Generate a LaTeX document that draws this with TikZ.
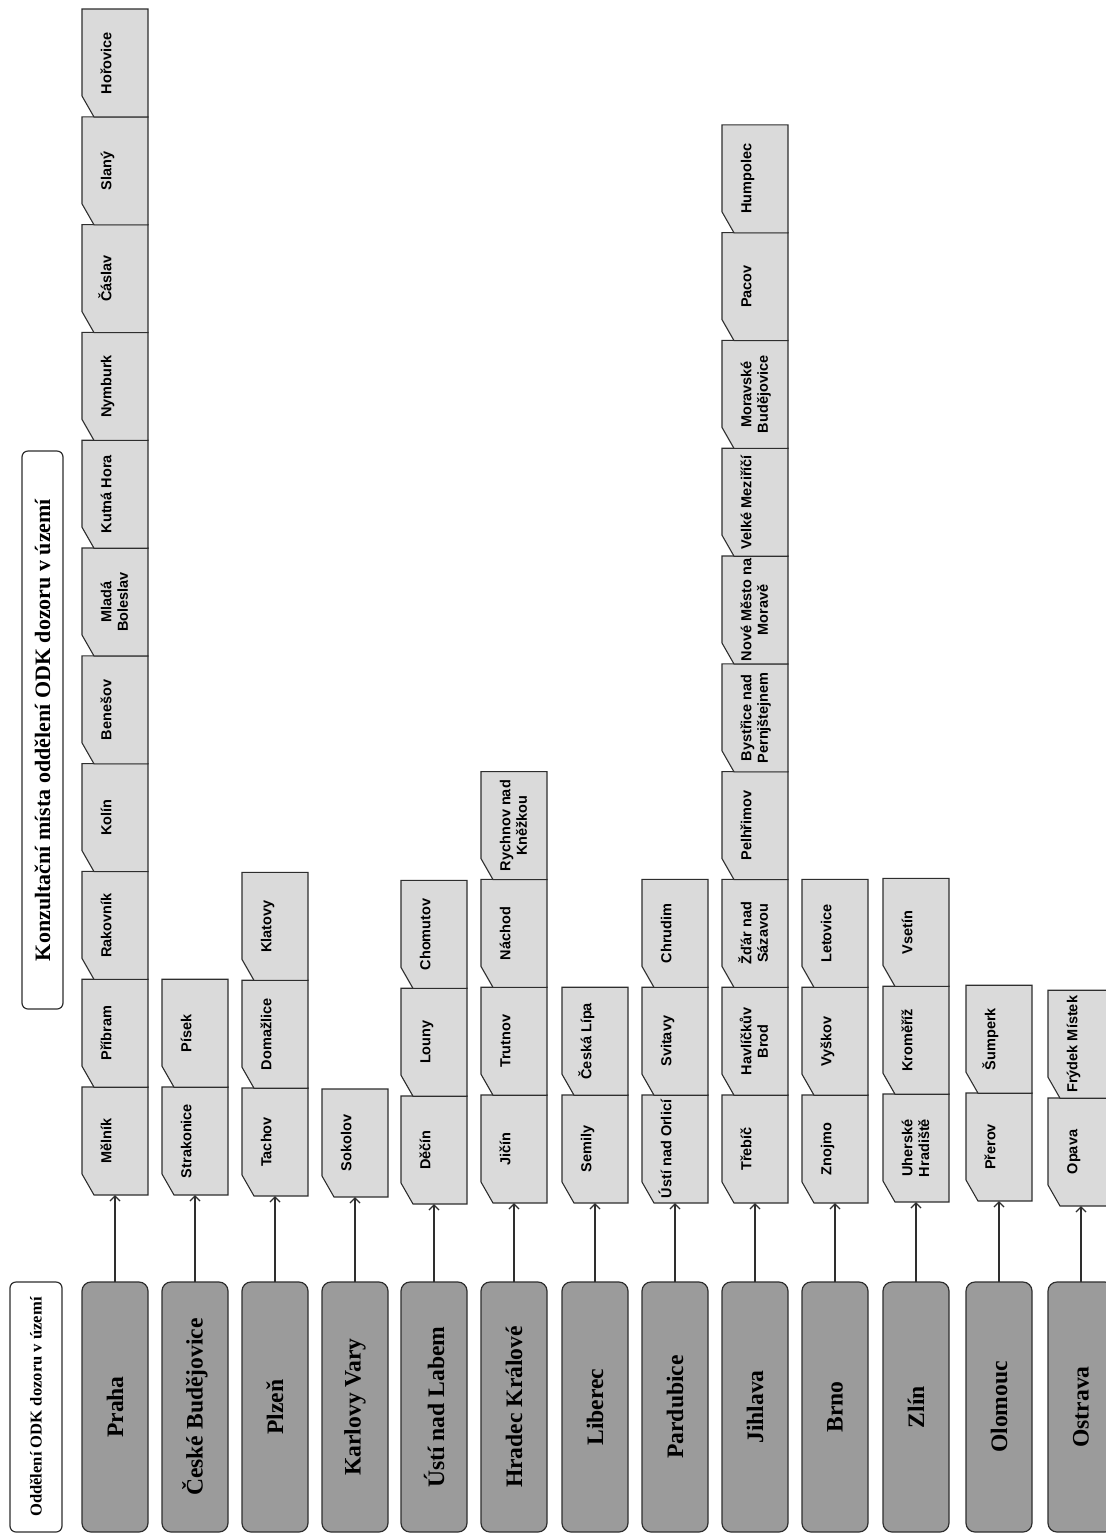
\documentclass[tikz,border=0pt]{standalone}
\usepackage{fontspec}
\setmainfont{Liberation Serif}
\newfontfamily\arialf{Liberation Sans}
\usetikzlibrary{arrows.meta}
\definecolor{regfill}{HTML}{9B9B9B}
\definecolor{cardfill}{HTML}{DADADA}
\definecolor{edge}{HTML}{2E2E2E}
\tikzset{
  cardbox/.style={minimum width=33pt, minimum height=54pt, inner sep=0pt, draw=none, outer sep=0pt},
  cardline/.style={draw=edge, fill=cardfill, line width=0.55pt, line join=miter},
  cardlabel/.style={font=\arialf\bfseries\fontsize{7.25}{8.3}\selectfont, rotate=90, anchor=north, inner sep=0pt, align=center},
  regbox/.style={draw=edge, fill=regfill, line width=0.6pt, rounded corners=4.5pt, minimum width=33pt, minimum height=125pt, inner sep=0pt, outer sep=0pt, font=\bfseries\fontsize{11.8}{13}\selectfont},
  headbox/.style={draw=edge, fill=white, line width=0.6pt, rounded corners=3pt, inner sep=0pt, outer sep=0pt},
  conn/.style={draw=edge, line width=0.6pt, -{Straight Barb[length=2.6pt,width=5pt,line width=0.6pt]}}
}
\newcommand{\ccard}[4]{%
  \node[cardbox] (#1) at ({#2+33},{#3-54}) {};
  \draw[cardline] (#1.north west) -- (#1.north east) -- (#1.south east)
     -- ([xshift=6pt]#1.south west) -- ([yshift=10.5pt]#1.south west) -- cycle;
  \node[cardlabel] at ({#2+16},{#3-54}) {\vphantom{Ž}#4};
}
\begin{document}
\begin{tikzpicture}[x=0.5pt,y=-0.5pt]
\useasboundingbox (0,0) rectangle (1106,1533);
\clip (0,0) rectangle (1106,1533);
\fill[white] (0,0) rectangle (1106,1533);

% header boxes
\node[headbox, minimum width=26pt, minimum height=125pt, font=\bfseries\fontsize{8.3}{10}\selectfont] (head) at (36,1407) {\rotatebox{90}{Oddělení ODK dozoru v území}};
\node[headbox, minimum width=20.5pt, minimum height=279pt, font=\bfseries\fontsize{11}{13}\selectfont] (title) at (42.5,730) {\rotatebox{90}{Konzultační místa oddělení ODK dozoru v území}};

% cards per region
\foreach \t [count=\i] in {Mělník, Příbram, Rakovník, Kolín, Benešov, {Mladá\\Boleslav}, Kutná Hora, Nymburk, Čáslav, Slaný, Hořovice}
  {\ccard{c0-\i}{82}{1195-107.8*(\i-1)}{\t}}
\foreach \t [count=\i] in {Strakonice, Písek}
  {\ccard{c1-\i}{162}{1195-107.8*(\i-1)}{\t}}
\foreach \t [count=\i] in {Tachov, Domažlice, Klatovy}
  {\ccard{c2-\i}{242}{1196-107.8*(\i-1)}{\t}}
\foreach \t [count=\i] in {Sokolov}
  {\ccard{c3-\i}{322}{1197-107.8*(\i-1)}{\t}}
\foreach \t [count=\i] in {Děčín, Louny, Chomutov}
  {\ccard{c4-\i}{401}{1204-107.8*(\i-1)}{\t}}
\foreach \t [count=\i] in {Jičín, Trutnov, Náchod, {Rychnov nad\\Kněžkou}}
  {\ccard{c5-\i}{481}{1203-107.8*(\i-1)}{\t}}
\foreach \t [count=\i] in {Semily, Česká Lípa}
  {\ccard{c6-\i}{562}{1203-107.8*(\i-1)}{\t}}
\foreach \t [count=\i] in {Ústí nad Orlicí, Svitavy, Chrudim}
  {\ccard{c7-\i}{642}{1203-107.8*(\i-1)}{\t}}
\foreach \t [count=\i] in {Třebíč, {Havlíčkův\\Brod}, {Žďár nad\\Sázavou}, Pelhřimov, {Bystřice nad\\Pernjštejnem}, {Nové Město na\\Moravě}, Velké Meziříčí, {Moravské\\Budějovice}, Pacov, Humpolec}
  {\ccard{c8-\i}{722}{1203-107.8*(\i-1)}{\t}}
\foreach \t [count=\i] in {Znojmo, Vyškov, Letovice}
  {\ccard{c9-\i}{802}{1203-107.8*(\i-1)}{\t}}
\foreach \t [count=\i] in {{Uherské\\Hradiště}, Kroměříž, Vsetín}
  {\ccard{c10-\i}{883}{1202-107.8*(\i-1)}{\t}}
\foreach \t [count=\i] in {Přerov, Šumperk}
  {\ccard{c11-\i}{966}{1201-107.8*(\i-1)}{\t}}
\foreach \t [count=\i] in {Opava, Frýdek Místek}
  {\ccard{c12-\i}{1048}{1206-107.8*(\i-1)}{\t}}

% region boxes and connectors
\foreach \n/\x/\name in {0/82/Praha, 1/162/České Budějovice, 2/242/Plzeň, 3/322/Karlovy Vary, 4/401/Ústí nad Labem, 5/481/Hradec Králové, 6/562/Liberec, 7/642/Pardubice, 8/722/Jihlava, 9/802/Brno, 10/883/Zlín, 11/966/Olomouc, 12/1048/Ostrava}
{
  \node[regbox] (r\n) at ({\x+33},1407) {\rotatebox{90}{\name}};
  \draw[conn] (r\n.north) -- (c\n-1.south);
}
\end{tikzpicture}
\end{document}
